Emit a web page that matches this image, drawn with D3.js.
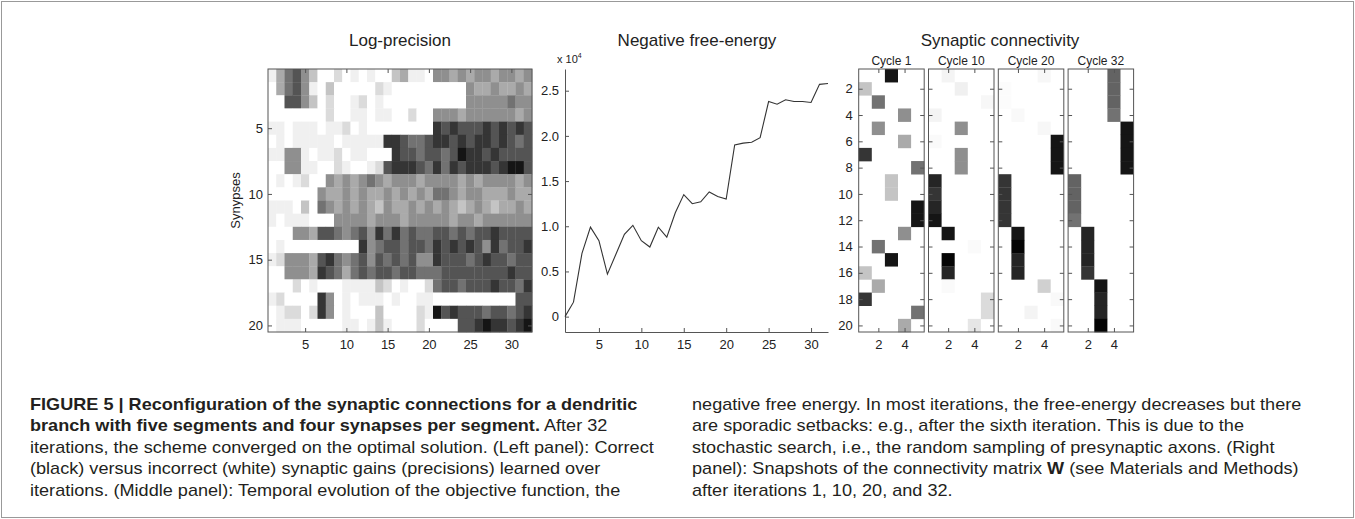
<!DOCTYPE html>
<html>
<head>
<meta charset="utf-8">
<script src="https://cdn.jsdelivr.net/npm/d3@7"></script>
<style>
  body { margin: 0; background: #fff; }
  svg { display: block; }
  text { font-family: "Liberation Sans", Arial, sans-serif; fill: #222; }
  .caption text { font-size: 16px; fill: #231f20; }
</style>
</head>
<body>
<div class="main"></div>
<script>
// iterations and synapses
const iterations = d3.range(1, 33);
const synapses = d3.range(1, 21);
const segments = d3.range(1, 6);

// log-precision, darkness 0 (white) .. 9 (black), one row per synapse
const logPrecision = [
  [1,4,6,7,5,3,0,0,2,0,1,0,1,0,0,3,4,1,1,0,5,5,4,5,4,5,5,4,5,5,4,5],
  [0,4,6,7,5,1,0,3,0,0,0,0,0,2,1,0,0,0,0,0,0,0,0,0,5,4,4,5,4,4,5,4],
  [0,0,7,7,5,3,0,2,0,0,1,2,0,1,0,0,0,0,0,0,0,0,0,0,5,5,5,5,5,6,5,5],
  [0,0,0,0,0,0,0,2,0,0,1,1,0,1,1,0,0,2,0,0,5,5,5,4,5,5,5,5,5,5,4,5],
  [1,1,0,1,1,1,0,1,1,2,0,1,0,0,0,0,0,0,0,0,8,7,8,7,7,7,8,7,8,7,8,7],
  [0,1,0,1,1,1,1,1,0,1,1,1,1,1,8,8,7,6,6,7,8,8,7,8,7,8,8,7,8,7,6,7],
  [1,1,5,5,1,0,1,1,2,0,1,1,0,0,0,8,7,7,6,7,7,6,7,9,8,8,7,8,7,7,7,7],
  [0,0,5,5,1,1,0,0,2,1,0,0,1,2,7,8,8,8,7,6,8,6,8,7,8,8,8,7,8,9,9,7],
  [0,1,0,1,2,0,0,5,4,5,4,5,6,5,4,5,5,5,4,5,5,5,5,4,5,4,5,5,5,5,4,5],
  [0,0,0,0,0,0,5,4,4,5,4,5,4,4,5,4,5,4,5,4,6,6,5,4,5,5,4,4,4,5,4,4],
  [1,1,1,0,3,0,6,5,4,5,4,5,4,3,5,4,4,5,4,5,4,5,4,3,4,5,4,3,4,4,5,4],
  [1,0,1,1,1,0,0,0,5,5,5,5,4,5,5,5,4,5,5,5,5,5,4,5,5,4,5,5,5,5,5,5],
  [0,0,0,5,5,4,7,7,6,5,6,7,5,8,6,8,6,7,6,6,7,7,6,7,6,7,7,8,7,7,7,7],
  [0,1,0,0,0,0,0,0,0,0,0,8,5,6,7,7,6,7,7,6,8,7,8,7,8,7,5,8,6,7,7,8],
  [1,2,5,5,5,4,7,8,6,5,6,7,5,7,6,7,6,7,5,5,8,7,7,7,6,7,8,7,7,6,7,7],
  [0,0,5,5,5,4,8,7,6,4,6,7,6,7,7,6,7,7,6,6,6,7,7,7,7,7,7,7,7,8,7,7],
  [0,0,0,2,0,1,0,0,0,1,1,1,1,3,2,0,1,0,0,2,6,7,7,6,7,7,7,8,7,7,6,8],
  [1,2,0,0,0,0,8,5,0,1,0,1,1,1,0,1,0,0,1,1,0,0,0,0,0,0,0,0,0,0,7,7],
  [0,1,2,2,0,2,8,5,0,1,0,0,0,3,0,0,0,0,2,1,9,7,8,7,7,7,6,7,7,6,7,8],
  [0,1,1,1,0,0,0,0,0,1,1,0,1,3,1,0,0,0,2,0,0,0,0,7,7,8,9,8,8,7,8,9]
];

// negative free-energy (x 10^4)
const freeEnergy = [0, 0.16, 0.70, 0.99, 0.84, 0.47, 0.69, 0.91, 1.01, 0.84, 0.77, 0.99, 0.88, 1.15, 1.35, 1.25,
                    1.27, 1.38, 1.33, 1.30, 1.90, 1.92, 1.93, 1.98, 2.38, 2.35, 2.40, 2.38, 2.38, 2.37, 2.57, 2.58];

// connectivity snapshots: [synapse, segment, darkness]
const cycleNames = ["Cycle 1", "Cycle 10", "Cycle 20", "Cycle 32"];
const cycle1 = [[1,3,9],[2,1,3],[3,2,6],[4,4,5],[5,2,5],[6,4,4],[7,1,8],[8,5,6],[9,3,3],[10,3,3],
                [11,5,9],[12,5,9],[13,4,5],[14,2,6],[15,3,9],[16,1,3],[17,2,4],[18,1,8],[19,5,6],[20,4,4]];
const cycle10 = [[1,2,0.8],[2,3,1],[3,5,0.6],[4,1,0.8],[5,3,5],[6,1,0.4],[7,3,5],[8,3,5],[9,1,8.5],[10,1,8],
                 [11,1,8.5],[12,1,9],[13,2,9],[14,4,0.4],[15,2,9.5],[16,2,8.5],[17,2,0.4],[18,5,2],[19,5,2],[20,4,1.5]];
const cycle20 = [[1,4,0.6],[2,1,0.3],[3,1,0.3],[4,2,0.5],[5,4,0.6],[6,5,9],[7,5,9],[8,5,9],[9,1,8],[10,1,8],
                 [11,1,8],[12,1,8],[13,2,9],[14,2,9.5],[15,2,8.5],[16,2,8.5],[17,4,2.5],[18,5,0.5],[19,3,0.8],[20,5,0.5]];
const cycle32 = [[1,4,6.5],[2,4,6.5],[3,4,6.5],[4,4,6],[5,5,9],[6,5,9],[7,5,9],[8,5,9],[9,1,6.5],[10,1,6.5],
                 [11,1,6.5],[12,1,6],[13,2,8.5],[14,2,8.5],[15,2,8.5],[16,2,8],[17,3,9],[18,3,8.5],[19,3,8.5],[20,3,9.5]];
const snapshots = [cycle1, cycle10, cycle20, cycle32];

const width = 1355, height = 519;
const axisColor = "#555";
// slightly bent so the pale cells stay pale, as in the print
const shade = d3.scalePow().exponent(1.25).domain([0, 9]).range(["#ffffff", "#151515"]);

const svg = d3.select('.main').append('svg')
  .attr('width', width)
  .attr('height', height);

svg.append('rect')
  .attr('x', 1.5).attr('y', 1.5)
  .attr('width', width - 3).attr('height', height - 3)
  .attr('fill', 'none').attr('stroke', '#999');

function styleAxis(g, showDomain) {
  g.selectAll('.tick line').attr('stroke', axisColor);
  g.selectAll('.tick text').attr('font-size', 13).attr('fill', '#222')
    .attr('font-family', '"Liberation Sans", Arial, sans-serif');
  if (!showDomain) g.select('.domain').remove();
  else g.select('.domain').attr('stroke', axisColor);
}

function title(x, text) {
  svg.append('text').attr('x', x).attr('y', 46)
    .attr('text-anchor', 'middle').attr('font-size', 17).text(text);
}

const intFormat = d3.format('d');

// ---------- left panel: log-precision ----------
const hm = { left: 268, right: 532, top: 69, bottom: 332 };
const hmX = d3.scaleBand().domain(iterations).range([hm.left, hm.right]);
const hmY = d3.scaleBand().domain(synapses).range([hm.top, hm.bottom]);

const hmCells = [];
logPrecision.forEach((row, i) => row.forEach((v, j) => hmCells.push({ s: synapses[i], it: iterations[j], v: v })));

svg.append('g').selectAll('rect')
  .data(hmCells)
  .enter().append('rect')
  .attr('x', d => hmX(d.it))
  .attr('y', d => hmY(d.s))
  .attr('width', hmX.bandwidth() + 0.3)
  .attr('height', hmY.bandwidth() + 0.3)
  .attr('fill', d => shade(d.v));

const hmXLin = d3.scaleLinear().domain([0.5, 32.5]).range([hm.left, hm.right]);
const hmYLin = d3.scaleLinear().domain([0.5, 20.5]).range([hm.top, hm.bottom]);

svg.append('g').attr('transform', `translate(0,${hm.bottom})`)
  .call(d3.axisBottom(hmXLin).tickValues([5, 10, 15, 20, 25, 30]).tickSize(-4).tickPadding(8).tickFormat(intFormat))
  .call(g => styleAxis(g, false));
svg.append('g').attr('transform', `translate(0,${hm.top})`)
  .call(d3.axisTop(hmXLin).tickValues([5, 10, 15, 20, 25, 30]).tickSize(-4).tickFormat(''))
  .call(g => styleAxis(g, false));
svg.append('g').attr('transform', `translate(${hm.left},0)`)
  .call(d3.axisLeft(hmYLin).tickValues([5, 10, 15, 20]).tickSize(-4).tickPadding(5).tickFormat(intFormat))
  .call(g => styleAxis(g, false));
svg.append('g').attr('transform', `translate(${hm.right},0)`)
  .call(d3.axisRight(hmYLin).tickValues([5, 10, 15, 20]).tickSize(-4).tickFormat(''))
  .call(g => styleAxis(g, false));
svg.append('rect')
  .attr('x', hm.left).attr('y', hm.top)
  .attr('width', hm.right - hm.left).attr('height', hm.bottom - hm.top)
  .attr('fill', 'none').attr('stroke', axisColor);

svg.append('text')
  .attr('transform', `translate(240,${(hm.top + hm.bottom) / 2}) rotate(-90)`)
  .attr('text-anchor', 'middle').attr('font-size', 13)
  .text('Synypses');

title(400, 'Log-precision');

// ---------- middle panel: negative free-energy ----------
const fe = { left: 565, right: 828, top: 69, bottom: 332 };
const feX = d3.scaleLinear().domain([1, 32]).range([fe.left, fe.right]);
const feY = d3.scaleLinear().domain([-0.17, 2.74]).range([fe.bottom, fe.top]);

svg.append('g').attr('transform', `translate(0,${fe.bottom})`)
  .call(d3.axisBottom(feX).tickValues([5, 10, 15, 20, 25, 30]).tickSize(-4).tickPadding(8).tickSizeOuter(0)
    .tickFormat(intFormat))
  .call(g => styleAxis(g, true));
svg.append('g').attr('transform', `translate(${fe.left},0)`)
  .call(d3.axisLeft(feY).tickValues([0, 0.5, 1, 1.5, 2, 2.5]).tickSize(-4).tickPadding(6).tickSizeOuter(0)
    .tickFormat(d => d === 0 ? '0' : d3.format('.1f')(d)))
  .call(g => styleAxis(g, true));

svg.append('path')
  .datum(freeEnergy)
  .attr('fill', 'none')
  .attr('stroke', '#333')
  .attr('stroke-width', 1.1)
  .attr('d', d3.line().x((d, i) => feX(iterations[i])).y(d => feY(d)));

const expo = svg.append('text').attr('x', 557).attr('y', 63).attr('font-size', 11);
expo.append('tspan').text('x 10');
expo.append('tspan').attr('font-size', 7).attr('dy', -5).text('4');

title(697, 'Negative free-energy');

// ---------- right panel: synaptic connectivity ----------
const panelW = 65.5, panelStep = 69.8, panelLeft = 858.7;

snapshots.forEach((cells, k) => {
  const left = panelLeft + k * panelStep;
  const px = d3.scaleBand().domain(segments).range([left, left + panelW]);
  const pxLin = d3.scaleLinear().domain([0.5, 5.5]).range([left, left + panelW]);
  const g = svg.append('g');

  g.selectAll('rect.cell')
    .data(cells)
    .enter().append('rect')
    .attr('class', 'cell')
    .attr('x', d => px(d[1]))
    .attr('y', d => hmY(d[0]))
    .attr('width', px.bandwidth())
    .attr('height', hmY.bandwidth() + 0.3)
    .attr('fill', d => shade(d[2]));

  g.append('g').attr('transform', `translate(0,${hm.bottom})`)
    .call(d3.axisBottom(pxLin).tickValues([2, 4]).tickSize(-4).tickPadding(8).tickFormat(intFormat))
    .call(a => styleAxis(a, false));
  g.append('g').attr('transform', `translate(0,${hm.top})`)
    .call(d3.axisTop(pxLin).tickValues([2, 4]).tickSize(-4).tickFormat(''))
    .call(a => styleAxis(a, false));
  g.append('g').attr('transform', `translate(${left},0)`)
    .call(d3.axisLeft(hmYLin).tickValues(d3.range(2, 21, 2)).tickSize(-4).tickPadding(6)
      .tickFormat(k === 0 ? intFormat : ''))
    .call(a => styleAxis(a, false));
  g.append('g').attr('transform', `translate(${left + panelW},0)`)
    .call(d3.axisRight(hmYLin).tickValues(d3.range(2, 21, 2)).tickSize(-4).tickFormat(''))
    .call(a => styleAxis(a, false));
  g.append('rect')
    .attr('x', left).attr('y', hm.top)
    .attr('width', panelW).attr('height', hm.bottom - hm.top)
    .attr('fill', 'none').attr('stroke', axisColor);

  g.append('text')
    .attr('x', left + panelW / 2).attr('y', 65)
    .attr('text-anchor', 'middle').attr('font-size', 12)
    .text(cycleNames[k]);
});

title(1000, 'Synaptic connectivity');

// ---------- caption ----------
const captionLeft = [
  [["FIGURE 5 | Reconfiguration of the synaptic connections for a dendritic", true]],
  [["branch with five segments and four synapses per segment.", true], [" After 32", false]],
  [["iterations, the scheme converged on the optimal solution. (Left panel): Correct", false]],
  [["(black) versus incorrect (white) synaptic gains (precisions) learned over", false]],
  [["iterations. (Middle panel): Temporal evolution of the objective function, the", false]]
];
const captionRight = [
  [["negative free energy. In most iterations, the free-energy decreases but there", false]],
  [["are sporadic setbacks: e.g., after the sixth iteration. This is due to the", false]],
  [["stochastic search, i.e., the random sampling of presynaptic axons. (Right", false]],
  [["panel): Snapshots of the connectivity matrix ", false], ["W", true], [" (see Materials and Methods)", false]],
  [["after iterations 1, 10, 20, and 32.", false]]
];

// no condensed face is installed, so the caption is squeezed horizontally
const cap = svg.append('g').attr('class', 'caption');
function writeColumn(lines, x) {
  const col = cap.append('g');
  lines.forEach((parts, i) => {
    const t = col.append('text').attr('x', 0).attr('y', 410 + i * 21.5);
    parts.forEach(p => {
      t.append('tspan')
        .attr('font-weight', p[1] ? 'bold' : 'normal')
        .text(p[0]);
    });
  });
  return col;
}
const colL = writeColumn(captionLeft, 30);
const colR = writeColumn(captionRight, 692);
const natural = colL.selectAll('text').nodes()[2].getComputedTextLength();
const squeeze = 624 / natural;
colL.attr('transform', `translate(30,0) scale(${squeeze},1)`);
colR.attr('transform', `translate(692,0) scale(${squeeze},1)`);
</script>
</body>
</html>
